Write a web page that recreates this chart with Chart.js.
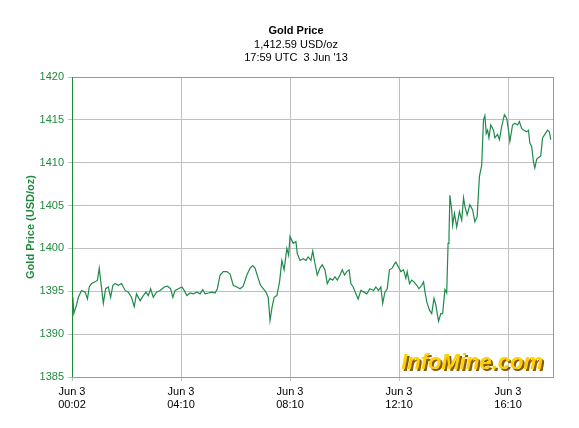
<!DOCTYPE html>
<html><head><meta charset="utf-8">
<script src="https://cdn.jsdelivr.net/npm/chart.js@4"></script>
<style>html,body{margin:0;padding:0;background:#fff}</style>
</head><body>
<canvas id="c" width="579" height="428"></canvas>
<script>
const minutes=[4,6,12,16,23,31,36,40,45,53,58,62,65,71,76,82,87,92,97,104,111,119,126,133,139,144,152,159,165,170,175,181,188,196,205,212,219,224,229,236,244,249,255,262,269,277,284,290,295,302,310,317,322,328,335,343,350,357,365,372,379,387,394,400,405,412,417,423,429,434,438,442,447,453,459,464,469,475,479,
482,489,495,498,504,511,517,522,528,532,537,542,548,553,559,564,570,576,581,586,592,597,602,607,612,616,621,627,632,638,645,651,658,666,671,677,682,686,691,696,701,707,712,715,721,726,732,737,740,745,750,755,761,766,772,776,
779,783,789,794,799,803,809,814,818,823,827,830,832,834,838,840,844,849,855,860,864,867,872,878,884,889,894,899,904,908,911,914,917,920,924,930,933,939,943,948,954,959,963,966,972,977,983,987,992,997,1003,1007,1010,1014,1018,1021,1025,1029,1034,1038,1043,1049,1053,1056];
const prices=[1394.3,1392.4,1393.4,1394.3,1395.1,1394.9,1394.1,1395.5,1395.9,1396.1,1396.3,1397.7,1396.3,1393.6,1395.3,1395.5,1394.3,1395.7,1395.9,1395.7,1395.9,1395.1,1394.9,1394.3,1393.2,1394.7,1393.9,1394.5,1394.9,1394.5,1395.3,1394.3,1394.9,1395.1,1395.5,1395.6,1395.3,1394.3,1395.1,1395.3,1395.5,1395.1,1394.5,1394.8,1394.7,1394.9,1394.7,1395.2,1394.7,1394.8,1394.9,1394.8,1395.3,1396.9,1397.3,1397.3,1397.0,1395.7,1395.5,1395.3,1395.6,1396.9,1397.7,1398.0,1397.7,1396.5,1395.7,1395.3,1394.9,1394.3,1391.6,1393.0,1394.3,1394.5,1396.1,1398.6,1397.5,1400.0,1399.2,
1401.4,1400.6,1400.8,1399.4,1398.6,1398.8,1398.6,1399.0,1398.6,1399.7,1398.2,1396.9,1397.7,1398.1,1397.5,1395.9,1396.5,1396.3,1396.7,1396.3,1396.9,1397.5,1396.9,1397.3,1397.5,1395.9,1395.5,1394.7,1394.1,1395.1,1394.9,1394.7,1395.3,1395.1,1395.5,1395.1,1395.5,1393.6,1394.9,1395.3,1397.5,1397.7,1398.2,1398.4,1397.8,1397.3,1397.5,1396.5,1397.3,1395.9,1396.3,1396.1,1395.7,1395.3,1395.7,1396.1,
1395.0,1393.8,1392.8,1392.4,1394.2,1393.4,1391.5,1392.4,1392.4,1395.2,1394.8,1400.6,1401.4,1406.2,1404.5,1402.7,1404.1,1402.5,1404.3,1403.3,1405.9,1404.9,1403.9,1405.1,1404.5,1403.1,1403.7,1408.4,1409.7,1415.0,1415.5,1413.4,1413.8,1412.9,1414.4,1413.8,1412.9,1413.3,1412.7,1414.2,1415.6,1415.2,1413.8,1412.5,1414.4,1414.6,1414.4,1414.8,1414.0,1413.8,1413.6,1413.8,1412.3,1411.9,1410.1,1409.4,1410.4,1410.6,1410.8,1412.9,1413.3,1413.8,1413.6,1412.7];
const xTicks=[2,242,482,722,962];
const xTickLabels=[["Jun 3","00:02"],["Jun 3","04:10"],["Jun 3","08:10"],["Jun 3","12:10"],["Jun 3","16:10"]];
const titleLines=["Gold Price","1,412.59 USD/oz","17:59 UTC  3 Jun '13"];
const yLabel="Gold Price (USD/oz)";
const F="'Liberation Sans', Arial, sans-serif";
const deco={id:'deco',
 afterDraw(c){const x=c.ctx;x.save();x.textAlign='center';x.fillStyle='#000';
  x.font='bold 11px '+F;x.fillText(titleLines[0],296,34);
  x.font='11px '+F;x.fillText(titleLines[1],296,48);x.fillText(titleLines[2],296,61);
  x.translate(34,227);x.rotate(-Math.PI/2);x.font='bold 11px '+F;x.fillStyle='#1f8a3c';x.fillText(yLabel,0,0);x.restore();
  x.save();x.font='italic bold 22px '+F;x.textAlign='right';x.lineJoin='round';
  x.fillStyle='#8a5a00';x.fillText('InfoMine.com',545,371);
  x.fillStyle='#ffd000';x.fillText('InfoMine.com',543,369);x.restore();
  const a=c.chartArea;x.save();x.strokeStyle='#999';x.lineWidth=1;x.strokeRect(a.left+0.5,a.top+0.5,a.right-a.left,a.bottom-a.top);
  x.strokeStyle='#1f8a3c';x.beginPath();x.moveTo(a.left+0.5,a.top);x.lineTo(a.left+0.5,a.bottom);x.stroke();x.restore();}};
new Chart(document.getElementById('c'),{type:'line',
 data:{datasets:[{data:minutes.map((m,i)=>({x:m,y:prices[i]})),borderColor:'#1f8a4c',borderWidth:1.2,pointRadius:0,tension:0}]},
 options:{responsive:false,animation:false,layout:{padding:{top:77,right:26,left:0,bottom:0}},
  plugins:{legend:{display:false},tooltip:{enabled:false}},
  scales:{
   x:{type:'linear',min:2,max:1061,afterBuildTicks(s){s.ticks=xTicks.map(v=>({value:v}));},
     afterFit(s){s.height=51;},
     ticks:{autoSkip:false,maxRotation:0,color:'#000',font:{family:F,size:11},padding:4,callback(v){return xTickLabels[xTicks.indexOf(v)];}},
     grid:{color:'#c0c0c0',drawTicks:true,tickLength:4},border:{display:false}},
   y:{min:1385,max:1420,afterFit(s){s.width=72;},
     ticks:{stepSize:5,color:'#1f8a3c',font:{family:F,size:11},padding:4,callback(v){return String(v);}},
     grid:{color:'#c0c0c0',tickLength:4},border:{display:false}}}},
 plugins:[deco]});
</script></body></html>
